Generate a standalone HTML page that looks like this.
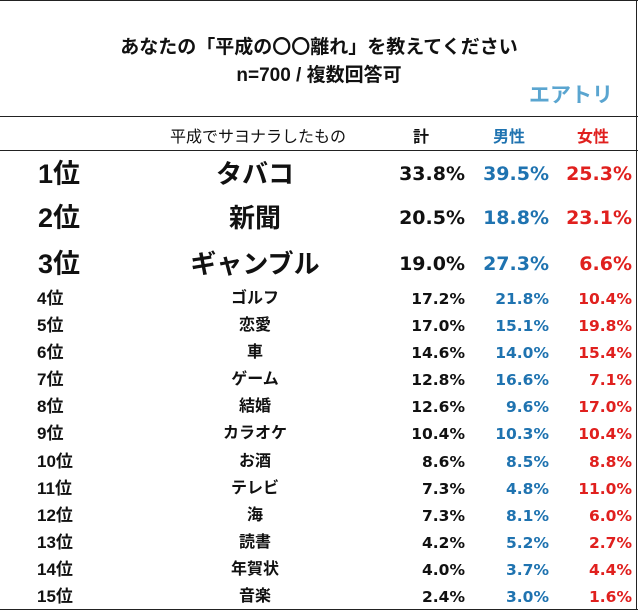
<!DOCTYPE html>
<html><head><meta charset="utf-8"><style>
body{margin:0;width:638px;height:612px;background:#fff;position:relative;overflow:hidden;font-family:"Liberation Sans","Noto Sans CJK JP",sans-serif;font-weight:bold;color:#111}
.a{position:absolute;white-space:nowrap}
.hl{position:absolute;left:0;width:638px;height:0;border-top:1.5px solid #222}
.r{position:absolute;left:0;width:638px;height:0}
.r div{position:absolute;white-space:nowrap;height:30px;line-height:30px;top:-15px}
.rk{left:38px}
.nm{left:155px;width:200px;text-align:center}
.t,.m,.f{text-align:right;font-family:"DejaVu Sans",sans-serif}
.t{right:173px}.m{right:89px;color:#1f73b0}.f{right:6px;color:#e0201e}
.s{font-size:16px}
.s .t,.s .m,.s .f{font-size:15.5px}
.s .rk{left:37px;font-size:17px}
.b .t,.b .m,.b .f{font-size:19px}
.b .rk{font-size:27px}
.b .nm{font-size:26px}
</style></head><body>
<div class="hl" style="top:0"></div>
<div style="position:absolute;left:636px;top:0;height:610px;border-left:1px solid #222"></div>
<div class="a" style="left:0;width:638px;top:32px;text-align:center;font-size:19px">あなたの「平成の〇〇離れ」を教えてください</div>
<div class="a" style="left:0;width:638px;top:60px;text-align:center;font-size:19px">n=700 / 複数回答可</div>
<div class="a" style="left:529px;top:79px;font-size:21px;color:#5aa5d0">エアトリ</div>
<div class="hl" style="top:116px"></div>
<div class="a" style="left:170px;top:123px;font-size:16px;font-weight:normal">平成でサヨナラしたもの</div>
<div class="a" style="left:413px;top:123px;font-size:16px">計</div>
<div class="a" style="left:493px;top:123px;font-size:16px;color:#1f73b0">男性</div>
<div class="a" style="left:577px;top:123px;font-size:16px;color:#e0201e">女性</div>
<div class="hl" style="top:150px"></div>

<div class="r b" style="top:174px"><div class="rk">1位</div><div class="nm">タバコ</div><div class="t">33.8%</div><div class="m">39.5%</div><div class="f">25.3%</div></div>
<div class="r b" style="top:218px"><div class="rk">2位</div><div class="nm">新聞</div><div class="t">20.5%</div><div class="m">18.8%</div><div class="f">23.1%</div></div>
<div class="r b" style="top:264px"><div class="rk">3位</div><div class="nm">ギャンブル</div><div class="t">19.0%</div><div class="m">27.3%</div><div class="f">6.6%</div></div>

<div class="r s" style="top:299px"><div class="rk">4位</div><div class="nm">ゴルフ</div><div class="t">17.2%</div><div class="m">21.8%</div><div class="f">10.4%</div></div>
<div class="r s" style="top:326px"><div class="rk">5位</div><div class="nm">恋愛</div><div class="t">17.0%</div><div class="m">15.1%</div><div class="f">19.8%</div></div>
<div class="r s" style="top:353px"><div class="rk">6位</div><div class="nm">車</div><div class="t">14.6%</div><div class="m">14.0%</div><div class="f">15.4%</div></div>
<div class="r s" style="top:380px"><div class="rk">7位</div><div class="nm">ゲーム</div><div class="t">12.8%</div><div class="m">16.6%</div><div class="f">7.1%</div></div>
<div class="r s" style="top:407px"><div class="rk">8位</div><div class="nm">結婚</div><div class="t">12.6%</div><div class="m">9.6%</div><div class="f">17.0%</div></div>
<div class="r s" style="top:434px"><div class="rk">9位</div><div class="nm">カラオケ</div><div class="t">10.4%</div><div class="m">10.3%</div><div class="f">10.4%</div></div>
<div class="r s" style="top:462px"><div class="rk">10位</div><div class="nm">お酒</div><div class="t">8.6%</div><div class="m">8.5%</div><div class="f">8.8%</div></div>
<div class="r s" style="top:489px"><div class="rk">11位</div><div class="nm">テレビ</div><div class="t">7.3%</div><div class="m">4.8%</div><div class="f">11.0%</div></div>
<div class="r s" style="top:516px"><div class="rk">12位</div><div class="nm">海</div><div class="t">7.3%</div><div class="m">8.1%</div><div class="f">6.0%</div></div>
<div class="r s" style="top:543px"><div class="rk">13位</div><div class="nm">読書</div><div class="t">4.2%</div><div class="m">5.2%</div><div class="f">2.7%</div></div>
<div class="r s" style="top:570px"><div class="rk">14位</div><div class="nm">年賀状</div><div class="t">4.0%</div><div class="m">3.7%</div><div class="f">4.4%</div></div>
<div class="r s" style="top:597px"><div class="rk">15位</div><div class="nm">音楽</div><div class="t">2.4%</div><div class="m">3.0%</div><div class="f">1.6%</div></div>
<div class="hl" style="top:609px"></div>
</body></html>
